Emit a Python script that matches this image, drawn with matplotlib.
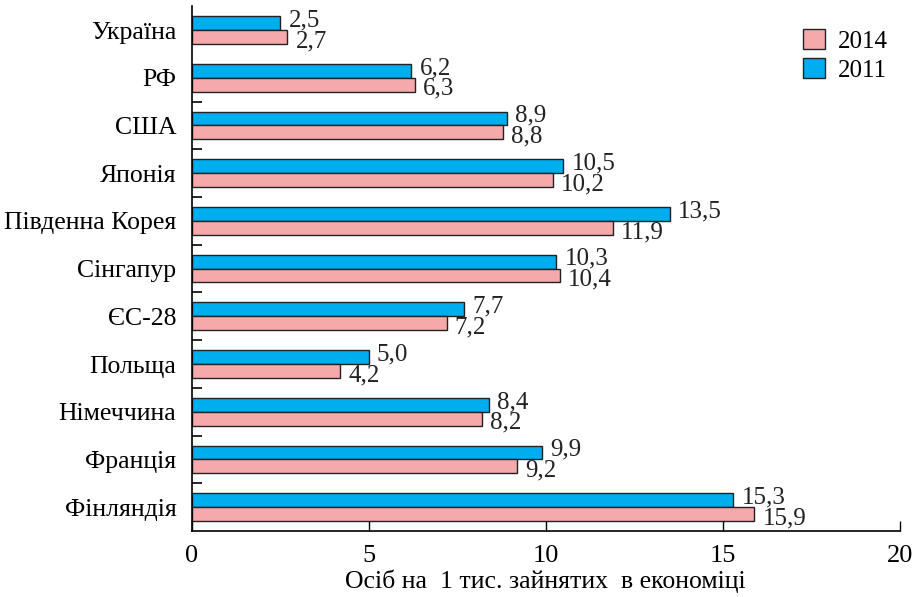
import matplotlib.pyplot as plt
import numpy as np

plt.rcParams['font.family'] = ['Liberation Serif', 'DejaVu Serif']

# Країни та значення (осіб на 1 тис. зайнятих)
countries = ['Україна', 'РФ', 'США', 'Японія', 'Південна Корея', 'Сінгапур',
             'ЄС-28', 'Польща', 'Німеччина', 'Франція', 'Фінляндія']
values_2011 = [2.5, 6.2, 8.9, 10.5, 13.5, 10.3, 7.7, 5.0, 8.4, 9.9, 15.3]
values_2014 = [2.7, 6.3, 8.8, 10.2, 11.9, 10.4, 7.2, 4.2, 8.2, 9.2, 15.9]

fig = plt.figure(figsize=(9.17, 5.97), dpi=100)
ax = fig.add_axes([0.209, 0.1106, 0.772, 0.879])

y = np.arange(len(countries))
h = 0.29
ax.barh(y - h / 2, values_2011, height=h, color='#00aeef', edgecolor='#222222',
        linewidth=1.0, label='2011')
ax.barh(y + h / 2, values_2014, height=h, color='#f5a9ab', edgecolor='#222222',
        linewidth=1.0, label='2014')

def fmt(v):
    return f'{v:.1f}'.replace('.', ',')

for i in range(len(countries)):
    ax.annotate(fmt(values_2011[i]), (values_2011[i], y[i] - h / 2),
                xytext=(6, 2), textcoords='offset points', ha='left', va='center',
                fontsize=18, color='#222222')
    ax.annotate(fmt(values_2014[i]), (values_2014[i], y[i] + h / 2),
                xytext=(6, -3), textcoords='offset points', ha='left', va='center',
                fontsize=18, color='#222222')

ax.set_xlim(0, 20)
ax.set_ylim(len(countries) - 0.5, -0.5)
ax.set_xticks([0, 5, 10, 15, 20])
ax.set_xticklabels(['0', '5', '10', '15', '20'], fontsize=19)
ax.set_yticks(y)
ax.set_yticklabels(countries, fontsize=18.5)
ax.tick_params(axis='y', length=0, pad=11)
# розділювачі між країнами (крім першого)
ax.set_yticks(np.arange(1.5, len(countries) - 1, 1.0), minor=True)
ax.tick_params(axis='y', which='minor', direction='in', length=7, width=1.2)
ax.tick_params(axis='x', direction='in', length=7, width=1, pad=10)
for s in ['top', 'right']:
    ax.spines[s].set_visible(False)
for s in ['left', 'bottom']:
    ax.spines[s].set_linewidth(1.2)

ax.set_xlabel('Осіб на  1 тис. зайнятих  в економіці', fontsize=18.5, labelpad=2)

handles, labels = ax.get_legend_handles_labels()
ax.legend(handles[::-1], labels[::-1], loc='upper right', frameon=False,
          fontsize=18, handlelength=0.9, handleheight=0.9, handletextpad=0.5,
          labelspacing=0.2, bbox_to_anchor=(1.015, 1.0))

fig.savefig('out.png', dpi=100)
